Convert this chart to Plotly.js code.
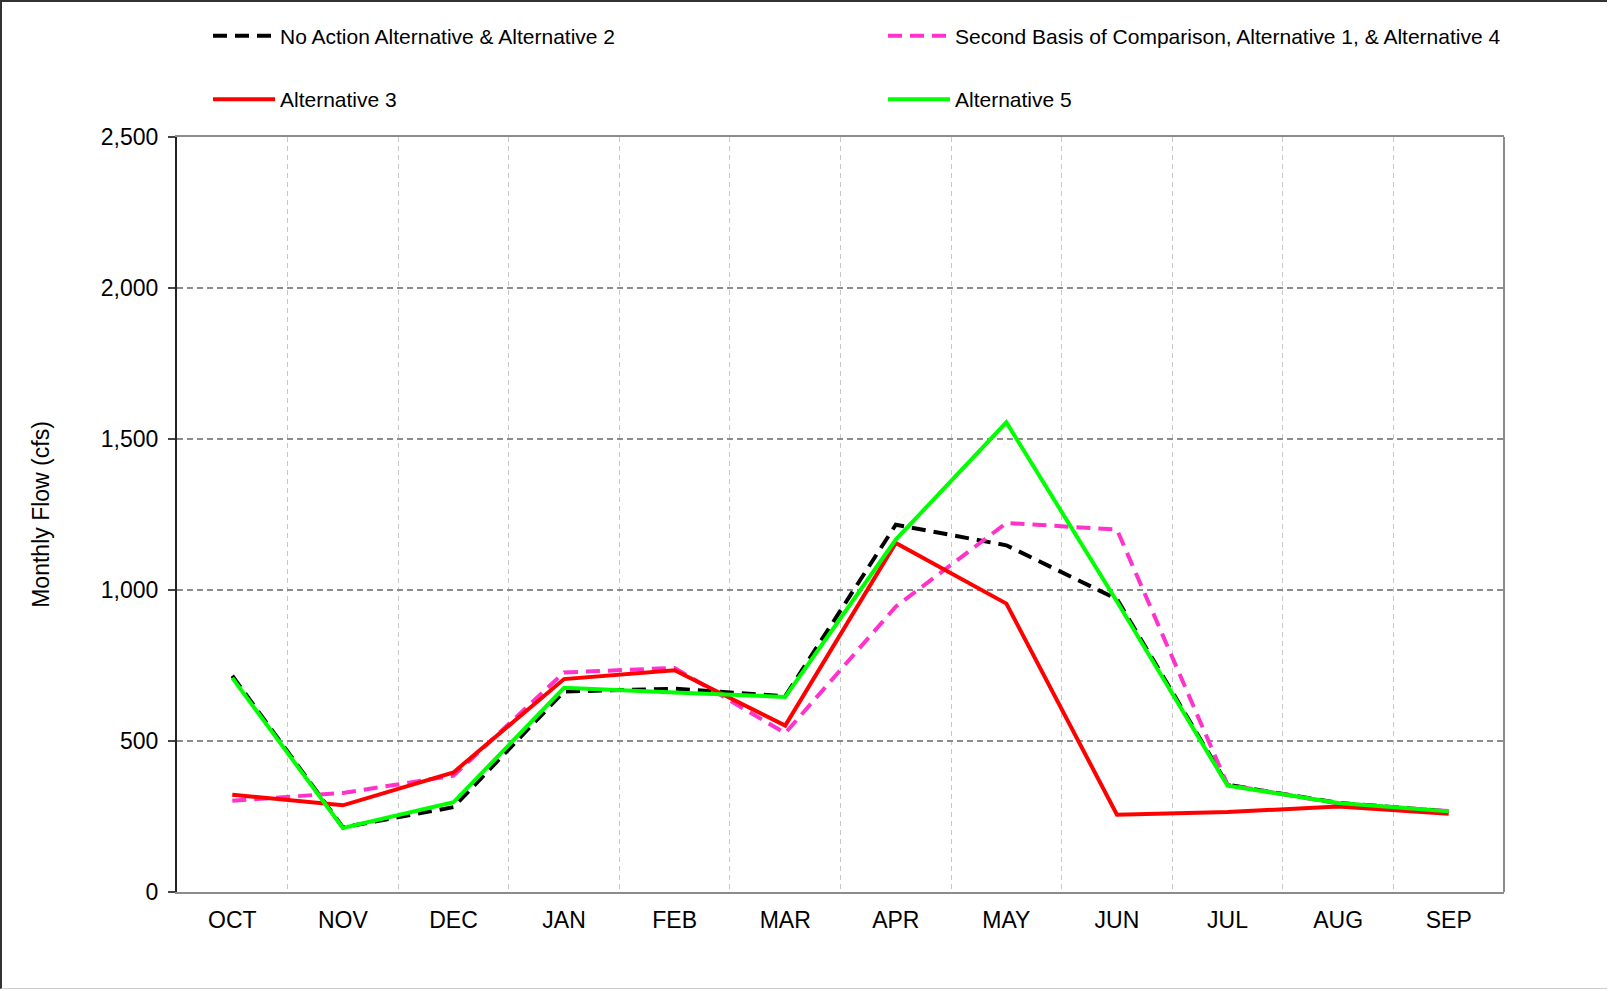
<!DOCTYPE html>
<html>
<head>
<meta charset="utf-8">
<script src="https://cdn.plot.ly/plotly-3.0.1.min.js"></script>
<style>
  html, body { margin: 0; padding: 0; background: #fff; }
  #wrap { position: relative; width: 1608px; height: 991px; }
  #chart { width: 1608px; height: 991px; }
  #frame { position: absolute; left: 0; top: 0; width: 1607px; height: 989px;
           border-left: 2px solid #333; border-top: 2px solid #333; border-bottom: 1px solid #ccc;
           box-sizing: border-box; pointer-events: none; }
</style>
</head>
<body>
<div id="wrap">
  <div id="chart"></div>
  <div id="frame"></div>
</div>
<script>
// ---- data (cfs) ----
const months = ['OCT','NOV','DEC','JAN','FEB','MAR','APR','MAY','JUN','JUL','AUG','SEP'];
const noActionAlt2 = [716, 214, 281, 664, 673, 648, 1216, 1148, 970, 355, 295, 267];
const secondBasisAlt1Alt4 = [302, 328, 385, 727, 742, 526, 945, 1222, 1200, 355, 293, 268];
const alternative3 = [322, 287, 396, 705, 734, 551, 1156, 955, 256, 265, 283, 259];
const alternative5 = [709, 212, 297, 676, 661, 646, 1167, 1555, 962, 352, 295, 267];
const yTickVals = [0, 500, 1000, 1500, 2000, 2500];
const yTickText = ['0', '500', '1,000', '1,500', '2,000', '2,500'];

const FONT = 'Arial, "Liberation Sans", sans-serif';

const traces = [
  { x: months, y: noActionAlt2, name: 'No Action Alternative & Alternative 2', mode: 'lines',
    line: { color: '#000000', width: 4, dash: '14px,8px' }, legend: 'legend' },
  { x: months, y: secondBasisAlt1Alt4, name: 'Second Basis of Comparison, Alternative 1, & Alternative 4', mode: 'lines',
    line: { color: '#FF33CC', width: 4, dash: '14px,8px' }, legend: 'legend2' },
  { x: months, y: alternative3, name: 'Alternative 3', mode: 'lines',
    line: { color: '#FF0000', width: 4 }, legend: 'legend3' },
  { x: months, y: alternative5, name: 'Alternative 5', mode: 'lines',
    line: { color: '#00FF00', width: 4 }, legend: 'legend4' }
];

function legendAt(px, py) {
  return {
    orientation: 'h', xref: 'container', yref: 'container', xanchor: 'left', yanchor: 'middle',
    x: px / 1608, y: 1 - py / 991, itemwidth: 62,
    bgcolor: 'rgba(0,0,0,0)', font: { family: FONT, size: 21, color: '#000' },
    itemclick: false, itemdoubleclick: false
  };
}

const layout = {
  width: 1608, height: 991,
  margin: { l: 177, r: 104, t: 137, b: 99, pad: 0, autoexpand: false },
  paper_bgcolor: '#ffffff', plot_bgcolor: '#ffffff',
  font: { family: FONT, color: '#000' },
  showlegend: true,
  legend: legendAt(208, 36),
  legend2: legendAt(883, 36),
  legend3: legendAt(208, 99.5),
  legend4: legendAt(883, 99.5),
  xaxis: {
    type: 'category', tickson: 'boundaries', range: [-0.5, 11.5],
    showgrid: true, gridcolor: '#c8c8c8', gridwidth: 1, griddash: '5px,4px',
    showline: true, linecolor: '#8c8c8c', linewidth: 2, mirror: true,
    ticks: '', ticklabelstandoff: 6,
    tickfont: { family: FONT, size: 23, color: '#000' },
    zeroline: false, fixedrange: true
  },
  yaxis: {
    range: [0, 2500], tickmode: 'array', tickvals: yTickVals, ticktext: yTickText,
    showgrid: true, gridcolor: '#8c8c8c', gridwidth: 1.5, griddash: '6px,4px',
    showline: true, linecolor: '#222', linewidth: 2,
    ticks: 'outside', ticklen: 7, tickwidth: 1.5, tickcolor: '#444',
    ticklabelstandoff: 5,
    tickfont: { family: FONT, size: 23, color: '#000' },
    zeroline: false, automargin: true, fixedrange: true,
    title: { text: 'Monthly Flow (cfs)', font: { family: FONT, size: 23, color: '#000' }, standoff: 45 }
  },
  shapes: [
    { type: 'line', xref: 'paper', yref: 'paper', x0: 1, x1: 1, y0: 0, y1: 1,
      line: { color: '#8c8c8c', width: 2 }, layer: 'above' }
  ]
};

Plotly.newPlot('chart', traces, layout, { staticPlot: true, displayModeBar: false });
</script>
</body>
</html>
